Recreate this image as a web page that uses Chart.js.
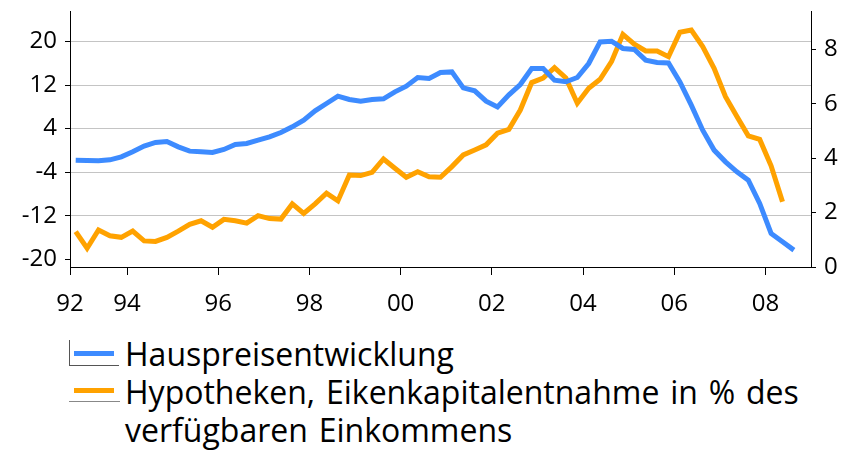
<!DOCTYPE html>
<html lang="de">
<head>
    <meta charset="UTF-8">
    <title>Hauspreise und Hypotheken</title>
    <script src="https://cdn.jsdelivr.net/npm/chart.js"></script>
    <style>
        body {
            margin: 0;
            background: #fff;
            font-family: "Open Sans", sans-serif;
        }

        .wrap {
            position: relative;
            width: 851px;
            height: 454px;
        }

        .chart-box {
            position: absolute;
            left: 0;
            top: 0;
            width: 851px;
            height: 320px;
        }

        .key {
            position: absolute;
            left: 74px;
            width: 40px;
            height: 5px;
        }

        .legend-text {
            position: absolute;
            left: 125px;
            top: 335px;
            font-size: 32px;
            line-height: 38px;
            word-spacing: 2.5px;
            color: #000;
            white-space: nowrap;
        }

        .trace {
            position: absolute;
            background: #555;
        }
    </style>
</head>
<body>
    <div class="wrap">
        <div class="chart-box">
            <canvas id="housingChart"></canvas>
        </div>

        <!-- legend -->
        <div class="trace" style="left:69px;top:340px;width:1px;height:25px;"></div>
        <div class="trace" style="left:69px;top:365px;width:50px;height:1px;"></div>
        <div class="trace" style="left:69px;top:401px;width:51px;height:1px;background:#888;"></div>
        <div class="key" style="top:351px;background:#3d8bff;"></div>
        <div class="key" style="top:388px;background:#ffa200;"></div>
        <div class="legend-text">
            Hauspreisentwicklung<br>
            Hypotheken, Eikenkapitalentnahme in % des<br>
            verfügbaren Einkommens
        </div>
    </div>

    <script>
        // quarterly data, first point Q4 1992
        const startQuarter = 1992.875;

        // Hauspreisentwicklung (left axis)
        const housePrices = [
            -1.78, -1.83, -1.9, -1.72, -1.17, -0.26, 0.79, 1.47, 1.65, 0.66,
            -0.13, -0.26, -0.37, 0.18, 1.1, 1.28, 1.89, 2.5, 3.3, 4.33,
            5.56, 7.27, 8.62, 9.96, 9.36, 9.05, 9.36, 9.47, 10.75, 11.8,
            13.39, 13.2, 14.3, 14.42, 11.49, 10.94, 9.05, 8.0, 10.2, 12.11,
            15.05, 15.05, 12.9, 12.6, 13.39, 15.96, 19.93, 20.06, 18.72, 18.53,
            16.57, 16.15, 16.07, 12.59, 8.31, 3.72, 0.06, -2.09, -3.93, -5.45,
            -9.72, -15.23, -16.77, -18.3
        ];

        // Hypotheken, Eigenkapitalentnahme in % des verf. Einkommens (right axis)
        const mortgageEquity = [
            1.30, 0.69, 1.36, 1.15, 1.09, 1.32, 0.96, 0.94, 1.09, 1.32,
            1.57, 1.70, 1.46, 1.75, 1.70, 1.61, 1.89, 1.78, 1.76, 2.32,
            1.97, 2.32, 2.71, 2.43, 3.38, 3.36, 3.48, 3.97, 3.63, 3.30,
            3.50, 3.32, 3.30, 3.69, 4.12, 4.30, 4.49, 4.92, 5.06, 5.77,
            6.78, 6.94, 7.33, 6.95, 6.02, 6.57, 6.90, 7.55, 8.55, 8.19,
            7.94, 7.94, 7.73, 8.63, 8.71, 8.10, 7.30, 6.26, 5.53, 4.82,
            4.69, 3.72, 2.40
        ];

        const xTickValues = [1992.75, 1994, 1996, 1998, 2000, 2002, 2004, 2006, 2008];
        const xTickLabels = ['92', '94', '96', '98', '00', '02', '04', '06', '08'];
        const leftTicks = [-20, -12, -4, 4, 12, 20];
        const rightTicks = [0, 2, 4, 6, 8];

        function toPoints(values) {
            return values.map((v, i) => ({ x: startQuarter + i * 0.25, y: v }));
        }

        // keep tick labels from pushing the plot area around
        function noPadding(axis) {
            axis.paddingTop = 0;
            axis.paddingBottom = 0;
            axis.paddingLeft = 0;
            axis.paddingRight = 0;
        }

        const tickFont = { family: 'Open Sans', size: 24 };

        const ctx = document.getElementById('housingChart').getContext('2d');
        new Chart(ctx, {
            type: 'line',
            data: {
                datasets: [
                    {
                        label: 'Hauspreisentwicklung',
                        data: toPoints(housePrices),
                        yAxisID: 'y',
                        borderColor: '#3d8bff',
                        borderWidth: 5,
                        pointRadius: 0,
                        tension: 0
                    },
                    {
                        label: 'Hypotheken, Eikenkapitalentnahme in % des verfügbaren Einkommens',
                        data: toPoints(mortgageEquity),
                        yAxisID: 'y1',
                        borderColor: '#ffa200',
                        borderWidth: 5,
                        pointRadius: 0,
                        tension: 0
                    }
                ]
            },
            options: {
                responsive: true,
                maintainAspectRatio: false,
                animation: false,
                layout: { padding: { top: 11 } },
                plugins: {
                    legend: { display: false },
                    tooltip: { enabled: false }
                },
                scales: {
                    x: {
                        type: 'linear',
                        min: 1992.75,
                        max: 2009,
                        afterBuildTicks: axis => {
                            axis.ticks = xTickValues.map(v => ({ value: v }));
                        },
                        afterFit: axis => {
                            axis.height = 53;
                            noPadding(axis);
                        },
                        ticks: {
                            autoSkip: false,
                            maxRotation: 0,
                            color: '#000',
                            font: tickFont,
                            padding: 15,
                            callback: value => xTickLabels[xTickValues.indexOf(value)]
                        },
                        grid: {
                            drawOnChartArea: false,
                            tickLength: 8,
                            color: '#000'
                        },
                        border: { color: '#000', width: 1 }
                    },
                    y: {
                        position: 'left',
                        min: -21.4,
                        max: 25.6,
                        afterBuildTicks: axis => {
                            axis.ticks = leftTicks.map(v => ({ value: v }));
                        },
                        afterFit: axis => {
                            axis.width = 70;
                            noPadding(axis);
                        },
                        ticks: {
                            color: '#000',
                            font: tickFont,
                            padding: 8
                        },
                        grid: {
                            color: c => (c.tick && c.tick.value === -20) ? 'rgba(0,0,0,0)' : '#c4c4c4',
                            lineWidth: 1,
                            tickLength: 5,
                            tickColor: '#000'
                        },
                        border: { color: '#000', width: 1 }
                    },
                    y1: {
                        position: 'right',
                        min: 0,
                        max: 9.41,
                        afterBuildTicks: axis => {
                            axis.ticks = rightTicks.map(v => ({ value: v }));
                        },
                        afterFit: axis => {
                            axis.width = 40;
                            noPadding(axis);
                        },
                        ticks: {
                            color: '#000',
                            font: tickFont,
                            padding: 8
                        },
                        grid: {
                            drawOnChartArea: false,
                            tickLength: 5,
                            color: '#000'
                        },
                        border: { color: '#000', width: 1 }
                    }
                }
            }
        });
    </script>
</body>
</html>
